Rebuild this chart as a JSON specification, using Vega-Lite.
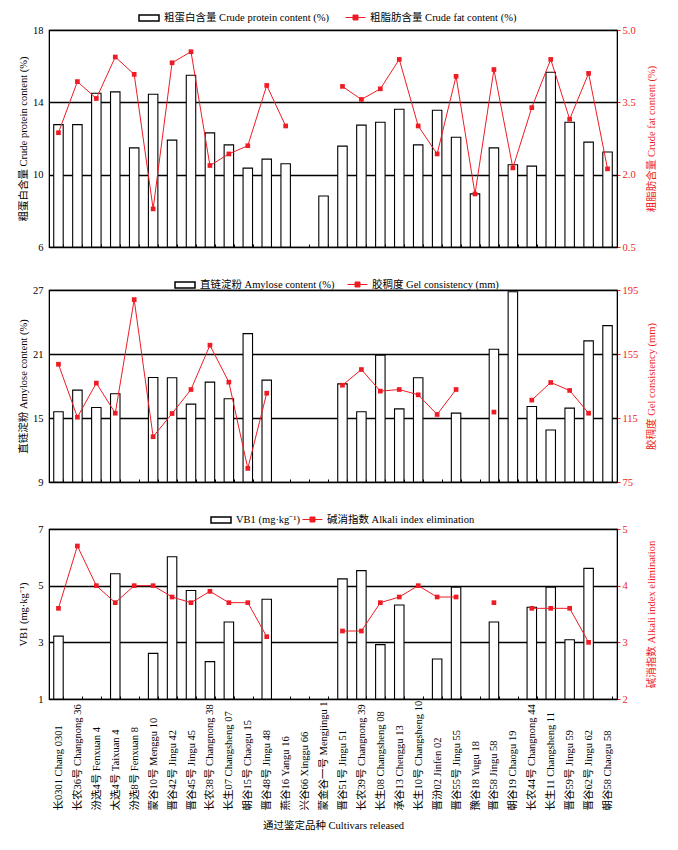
{
  "$schema": "https://vega.github.io/schema/vega-lite/v6.json",
  "padding": {"left": 17, "top": 6, "right": 10, "bottom": 5},
  "background": "white",
  "config": {
    "font": "Liberation Serif, Noto Sans CJK SC",
    "view": {"stroke": "black", "strokeWidth": 1.2},
    "axis": {"labelFont": "Liberation Serif, Noto Sans CJK SC", "titleFont": "Liberation Serif, Noto Sans CJK SC", "labelFontSize": 10.5, "titleFontSize": 10.5, "titleFontWeight": "normal", "domainColor": "black", "labelColor": "black", "titleColor": "black", "tickColor": "black"},
    "legend": {"labelFont": "Liberation Serif, Noto Sans CJK SC", "labelFontSize": 10.5, "labelColor": "black"}
  },
  "data": {"values": [
    {"cultivar": "长0301 Chang 0301", "protein": 12.77, "fat": 2.87, "amylose": 15.58, "gel": 148.6, "vb1": 3.22, "alkali": 3.6},
    {"cultivar": "长农36号 Changnong 36", "protein": 12.77, "fat": 3.93, "amylose": 17.61, "gel": 115.5, "vb1": null, "alkali": 4.7},
    {"cultivar": "汾选4号 Fenxuan 4", "protein": 14.5, "fat": 3.58, "amylose": 15.99, "gel": 136.8, "vb1": null, "alkali": 4.0},
    {"cultivar": "太选4号 Taixuan 4", "protein": 14.58, "fat": 4.44, "amylose": 17.27, "gel": 118.0, "vb1": 5.42, "alkali": 3.7},
    {"cultivar": "汾选8号 Fenxuan 8", "protein": 11.48, "fat": 4.08, "amylose": null, "gel": 189.0, "vb1": null, "alkali": 4.0},
    {"cultivar": "蒙谷10号 Menggu 10", "protein": 14.45, "fat": 1.29, "amylose": 18.8, "gel": 103.3, "vb1": 2.61, "alkali": 4.0},
    {"cultivar": "晋谷42号 Jingu 42", "protein": 11.91, "fat": 4.32, "amylose": 18.77, "gel": 117.8, "vb1": 6.02, "alkali": 3.8},
    {"cultivar": "晋谷45号 Jingu 45", "protein": 15.5, "fat": 4.55, "amylose": 16.3, "gel": 132.8, "vb1": 4.83, "alkali": 3.7},
    {"cultivar": "长农38号 Changnong 38", "protein": 12.31, "fat": 2.19, "amylose": 18.36, "gel": 160.5, "vb1": 2.32, "alkali": 3.9},
    {"cultivar": "长生07 Changsheng 07", "protein": 11.65, "fat": 2.43, "amylose": 16.8, "gel": 137.4, "vb1": 3.72, "alkali": 3.7},
    {"cultivar": "朝谷15号 Chaogu 15", "protein": 10.36, "fat": 2.6, "amylose": 22.91, "gel": 83.5, "vb1": null, "alkali": 3.7},
    {"cultivar": "晋谷48号 Jingu 48", "protein": 10.86, "fat": 3.85, "amylose": 18.55, "gel": 130.5, "vb1": 4.52, "alkali": 3.1},
    {"cultivar": "燕谷16  Yangu 16", "protein": 10.6, "fat": 3.01, "amylose": null, "gel": null, "vb1": null, "alkali": null},
    {"cultivar": "兴谷66 Xinggu 66", "protein": null, "fat": null, "amylose": null, "gel": null, "vb1": null, "alkali": null},
    {"cultivar": "蒙金谷一号 Mengjingu 1", "protein": 8.82, "fat": null, "amylose": null, "gel": null, "vb1": null, "alkali": null},
    {"cultivar": "晋谷51号 Jingu 51", "protein": 11.58, "fat": 3.83, "amylose": 18.2, "gel": 135.5, "vb1": 5.24, "alkali": 3.2},
    {"cultivar": "长农39号 Changnong 39", "protein": 12.74, "fat": 3.56, "amylose": 15.58, "gel": 145.3, "vb1": 5.53, "alkali": 3.2},
    {"cultivar": "长生08 Changsheng 08", "protein": 12.9, "fat": 3.78, "amylose": 20.89, "gel": 131.8, "vb1": 2.92, "alkali": 3.7},
    {"cultivar": "承谷13 Chenggu 13", "protein": 13.62, "fat": 4.39, "amylose": 15.86, "gel": 132.8, "vb1": 4.32, "alkali": 3.8},
    {"cultivar": "长生10号 Changsheng 10", "protein": 11.65, "fat": 3.01, "amylose": 18.77, "gel": 129.5, "vb1": null, "alkali": 4.0},
    {"cultivar": "晋汾02 Jinfen 02", "protein": 13.56, "fat": 2.43, "amylose": null, "gel": 117.2, "vb1": 2.41, "alkali": 3.8},
    {"cultivar": "晋谷55号 Jingu 55", "protein": 12.07, "fat": 4.04, "amylose": 15.46, "gel": 132.8, "vb1": 4.95, "alkali": 3.8},
    {"cultivar": "豫谷18 Yugu 18", "protein": 8.94, "fat": 1.6, "amylose": null, "gel": null, "vb1": null, "alkali": null},
    {"cultivar": "晋谷58 Jingu 58", "protein": 11.48, "fat": 4.18, "amylose": 21.45, "gel": 118.7, "vb1": 3.72, "alkali": 3.7},
    {"cultivar": "朝谷19 Chaogu 19", "protein": 10.55, "fat": 2.14, "amylose": 26.84, "gel": null, "vb1": null, "alkali": null},
    {"cultivar": "长农44号 Changnong 44", "protein": 10.47, "fat": 3.39, "amylose": 16.08, "gel": 126.2, "vb1": 4.24, "alkali": 3.6},
    {"cultivar": "长生11 Changsheng 11", "protein": 15.66, "fat": 4.39, "amylose": 13.87, "gel": 137.2, "vb1": 4.95, "alkali": 3.6},
    {"cultivar": "晋谷59号 Jingu 59", "protein": 12.9, "fat": 3.15, "amylose": 15.93, "gel": 132.2, "vb1": 3.09, "alkali": 3.6},
    {"cultivar": "晋谷62号 Jingu 62", "protein": 11.8, "fat": 4.1, "amylose": 22.23, "gel": 118.0, "vb1": 5.61, "alkali": 3.0},
    {"cultivar": "朝谷58 Chaogu 58", "protein": 11.25, "fat": 2.12, "amylose": 23.66, "gel": null, "vb1": null, "alkali": null}
  ]},
  "spacing": 19,
  "resolve": {"scale": {"fill": "independent", "stroke": "independent"}},
  "vconcat": [
    {
      "width": 568, "height": 217,
      "resolve": {"scale": {"y": "independent"}},
      "layer": [
        {
          "mark": {"type": "bar", "stroke": "black", "strokeWidth": 1.1},
          "encoding": {
            "x": {"field": "cultivar", "type": "nominal", "sort": null, "scale": {"domain": ["长0301 Chang 0301", "长农36号 Changnong 36", "汾选4号 Fenxuan 4", "太选4号 Taixuan 4", "汾选8号 Fenxuan 8", "蒙谷10号 Menggu 10", "晋谷42号 Jingu 42", "晋谷45号 Jingu 45", "长农38号 Changnong 38", "长生07 Changsheng 07", "朝谷15号 Chaogu 15", "晋谷48号 Jingu 48", "燕谷16  Yangu 16", "兴谷66 Xinggu 66", "蒙金谷一号 Mengjingu 1", "晋谷51号 Jingu 51", "长农39号 Changnong 39", "长生08 Changsheng 08", "承谷13 Chenggu 13", "长生10号 Changsheng 10", "晋汾02 Jinfen 02", "晋谷55号 Jingu 55", "豫谷18 Yugu 18", "晋谷58 Jingu 58", "朝谷19 Chaogu 19", "长农44号 Changnong 44", "长生11 Changsheng 11", "晋谷59号 Jingu 59", "晋谷62号 Jingu 62", "朝谷58 Chaogu 58"], "paddingInner": 0.5, "paddingOuter": 0.25}, "axis": {"labels": false, "title": null, "tickBand": "extent", "tickSize": -3, "domainColor": "black"}},
            "y": {"field": "protein", "type": "quantitative", "scale": {"domain": [6, 18], "nice": false, "zero": false}, "axis": {"orient": "left", "values": [6, 10, 14, 18], "grid": true, "gridColor": "black", "gridWidth": 1.5, "ticks": false, "labelPadding": 6, "minExtent": 16, "maxExtent": 16, "titlePadding": 5, "title": "粗蛋白含量  Crude protein content (%)"}},
            "y2": {"datum": 6},
            "fill": {"datum": "粗蛋白含量  Crude protein content (%)", "type": "nominal", "scale": {"range": ["white"]}, "legend": {"orient": "none", "legendX": 89, "legendY": -23, "title": null, "direction": "horizontal", "symbolType": "M-1,-0.3H1V0.3H-1Z", "symbolSize": 400, "labelOffset": 4, "labelLimit": 400, "encode": {"symbols": {"update": {"fill": {"value": "white"}, "stroke": {"value": "black"}, "strokeWidth": {"value": 1.2}}}}}}
          }
        },
        {
          "layer": [
            {
              "mark": {"type": "line", "color": "#ee1c25", "strokeWidth": 1, "invalid": "break-paths-show-domains"},
              "encoding": {
                "x": {"field": "cultivar", "type": "nominal", "sort": null},
                "y": {"field": "fat", "type": "quantitative", "scale": {"domain": [0.5, 5], "nice": false, "zero": false}, "axis": {"orient": "right", "values": [0.5, 2, 3.5, 5], "format": ".1f", "grid": false, "labelColor": "#ee1c25", "tickColor": "#ee1c25", "tickSize": 3, "labelPadding": 2, "minExtent": 22, "maxExtent": 22, "titlePadding": 7, "titleColor": "#ee1c25", "titleAngle": 270, "titleBaseline": "top", "title": "粗脂肪含量  Crude fat content (%)"}},
                "stroke": {"datum": "粗脂肪含量  Crude fat content (%)", "type": "nominal", "scale": {"range": ["#ee1c25"]}, "legend": {"orient": "none", "legendX": 296, "legendY": -23, "title": null, "direction": "horizontal", "symbolType": "M-1,0H1M-0.25,-0.25H0.25V0.25H-0.25Z", "symbolSize": 400, "labelOffset": 4, "labelLimit": 400, "encode": {"symbols": {"update": {"fill": {"value": "#ee1c25"}, "stroke": {"value": "#ee1c25"}, "strokeWidth": {"value": 1}}}}}}
              }
            },
            {
              "mark": {"type": "square", "color": "#ee1c25", "size": 22, "opacity": 1, "filled": true},
              "encoding": {
                "x": {"field": "cultivar", "type": "nominal", "sort": null},
                "y": {"field": "fat", "type": "quantitative"}
              }
            }
          ]
        }
      ]
    },
    {
      "width": 568, "height": 192,
      "resolve": {"scale": {"y": "independent"}},
      "layer": [
        {
          "mark": {"type": "bar", "stroke": "black", "strokeWidth": 1.1},
          "encoding": {
            "x": {"field": "cultivar", "type": "nominal", "sort": null, "scale": {"domain": ["长0301 Chang 0301", "长农36号 Changnong 36", "汾选4号 Fenxuan 4", "太选4号 Taixuan 4", "汾选8号 Fenxuan 8", "蒙谷10号 Menggu 10", "晋谷42号 Jingu 42", "晋谷45号 Jingu 45", "长农38号 Changnong 38", "长生07 Changsheng 07", "朝谷15号 Chaogu 15", "晋谷48号 Jingu 48", "燕谷16  Yangu 16", "兴谷66 Xinggu 66", "蒙金谷一号 Mengjingu 1", "晋谷51号 Jingu 51", "长农39号 Changnong 39", "长生08 Changsheng 08", "承谷13 Chenggu 13", "长生10号 Changsheng 10", "晋汾02 Jinfen 02", "晋谷55号 Jingu 55", "豫谷18 Yugu 18", "晋谷58 Jingu 58", "朝谷19 Chaogu 19", "长农44号 Changnong 44", "长生11 Changsheng 11", "晋谷59号 Jingu 59", "晋谷62号 Jingu 62", "朝谷58 Chaogu 58"], "paddingInner": 0.5, "paddingOuter": 0.25}, "axis": {"labels": false, "title": null, "tickBand": "extent", "tickSize": -3, "domainColor": "black"}},
            "y": {"field": "amylose", "type": "quantitative", "scale": {"domain": [9, 27], "nice": false, "zero": false}, "axis": {"orient": "left", "values": [9, 15, 21, 27], "grid": true, "gridColor": "black", "gridWidth": 1.5, "ticks": false, "labelPadding": 6, "minExtent": 16, "maxExtent": 16, "titlePadding": 5, "title": "直链淀粉  Amylose content (%)"}},
            "y2": {"datum": 9},
            "fill": {"datum": "直链淀粉  Amylose content (%)", "type": "nominal", "scale": {"range": ["white"]}, "legend": {"orient": "none", "legendX": 125, "legendY": -16, "title": null, "direction": "horizontal", "symbolType": "M-1,-0.3H1V0.3H-1Z", "symbolSize": 400, "labelOffset": 4, "labelLimit": 400, "encode": {"symbols": {"update": {"fill": {"value": "white"}, "stroke": {"value": "black"}, "strokeWidth": {"value": 1.2}}}}}}
          }
        },
        {
          "layer": [
            {
              "mark": {"type": "line", "color": "#ee1c25", "strokeWidth": 1, "invalid": "break-paths-show-domains"},
              "encoding": {
                "x": {"field": "cultivar", "type": "nominal", "sort": null},
                "y": {"field": "gel", "type": "quantitative", "scale": {"domain": [75, 195], "nice": false, "zero": false}, "axis": {"orient": "right", "values": [75, 115, 155, 195], "format": "d", "grid": false, "labelColor": "#ee1c25", "tickColor": "#ee1c25", "tickSize": 3, "labelPadding": 2, "minExtent": 22, "maxExtent": 22, "titlePadding": 7, "titleColor": "#ee1c25", "titleAngle": 270, "titleBaseline": "top", "title": "胶稠度  Gel consistency (mm)"}},
                "stroke": {"datum": "胶稠度 Gel consistency (mm)", "type": "nominal", "scale": {"range": ["#ee1c25"]}, "legend": {"orient": "none", "legendX": 298, "legendY": -16, "title": null, "direction": "horizontal", "symbolType": "M-1,0H1M-0.25,-0.25H0.25V0.25H-0.25Z", "symbolSize": 400, "labelOffset": 4, "labelLimit": 400, "encode": {"symbols": {"update": {"fill": {"value": "#ee1c25"}, "stroke": {"value": "#ee1c25"}, "strokeWidth": {"value": 1}}}}}}
              }
            },
            {
              "mark": {"type": "square", "color": "#ee1c25", "size": 22, "opacity": 1, "filled": true},
              "encoding": {
                "x": {"field": "cultivar", "type": "nominal", "sort": null},
                "y": {"field": "gel", "type": "quantitative"}
              }
            }
          ]
        }
      ]
    },
    {
      "width": 568, "height": 170,
      "resolve": {"scale": {"y": "independent"}},
      "layer": [
        {
          "mark": {"type": "bar", "stroke": "black", "strokeWidth": 1.1},
          "encoding": {
            "x": {"field": "cultivar", "type": "nominal", "sort": null, "scale": {"domain": ["长0301 Chang 0301", "长农36号 Changnong 36", "汾选4号 Fenxuan 4", "太选4号 Taixuan 4", "汾选8号 Fenxuan 8", "蒙谷10号 Menggu 10", "晋谷42号 Jingu 42", "晋谷45号 Jingu 45", "长农38号 Changnong 38", "长生07 Changsheng 07", "朝谷15号 Chaogu 15", "晋谷48号 Jingu 48", "燕谷16  Yangu 16", "兴谷66 Xinggu 66", "蒙金谷一号 Mengjingu 1", "晋谷51号 Jingu 51", "长农39号 Changnong 39", "长生08 Changsheng 08", "承谷13 Chenggu 13", "长生10号 Changsheng 10", "晋汾02 Jinfen 02", "晋谷55号 Jingu 55", "豫谷18 Yugu 18", "晋谷58 Jingu 58", "朝谷19 Chaogu 19", "长农44号 Changnong 44", "长生11 Changsheng 11", "晋谷59号 Jingu 59", "晋谷62号 Jingu 62", "朝谷58 Chaogu 58"], "paddingInner": 0.5, "paddingOuter": 0.25}, "axis": {"labels": true, "labelAngle": 270, "labelAlign": "left", "labelBaseline": "middle", "labelPadding": 114, "labelLimit": 300, "labelOverlap": false, "labelFontSize": 10.5, "title": "通过鉴定品种 Cultivars released", "titlePadding": 10, "tickBand": "extent", "tickSize": -3, "domainColor": "black"}},
            "y": {"field": "vb1", "type": "quantitative", "scale": {"domain": [1, 7], "nice": false, "zero": false}, "axis": {"orient": "left", "values": [1, 3, 5, 7], "grid": true, "gridColor": "black", "gridWidth": 1.5, "ticks": false, "labelPadding": 6, "minExtent": 16, "maxExtent": 16, "titlePadding": 5, "title": "VB1 (mg·kg⁻¹)"}},
            "y2": {"datum": 1},
            "fill": {"datum": "VB1 (mg·kg⁻¹)", "type": "nominal", "scale": {"range": ["white"]}, "legend": {"orient": "none", "legendX": 161, "legendY": -20, "title": null, "direction": "horizontal", "symbolType": "M-1,-0.3H1V0.3H-1Z", "symbolSize": 400, "labelOffset": 4, "labelLimit": 400, "encode": {"symbols": {"update": {"fill": {"value": "white"}, "stroke": {"value": "black"}, "strokeWidth": {"value": 1.2}}}}}}
          }
        },
        {
          "layer": [
            {
              "mark": {"type": "line", "color": "#ee1c25", "strokeWidth": 1, "invalid": "break-paths-show-domains"},
              "encoding": {
                "x": {"field": "cultivar", "type": "nominal", "sort": null},
                "y": {"field": "alkali", "type": "quantitative", "scale": {"domain": [2, 5], "nice": false, "zero": false}, "axis": {"orient": "right", "values": [2, 3, 4, 5], "format": "d", "grid": false, "labelColor": "#ee1c25", "tickColor": "#ee1c25", "tickSize": 3, "labelPadding": 2, "minExtent": 22, "maxExtent": 22, "titlePadding": 7, "titleColor": "#ee1c25", "titleAngle": 270, "titleBaseline": "top", "title": "碱消指数  Alkali index elimination"}},
                "stroke": {"datum": "碱消指数 Alkali index elimination", "type": "nominal", "scale": {"range": ["#ee1c25"]}, "legend": {"orient": "none", "legendX": 253, "legendY": -20, "title": null, "direction": "horizontal", "symbolType": "M-1,0H1M-0.25,-0.25H0.25V0.25H-0.25Z", "symbolSize": 400, "labelOffset": 4, "labelLimit": 400, "encode": {"symbols": {"update": {"fill": {"value": "#ee1c25"}, "stroke": {"value": "#ee1c25"}, "strokeWidth": {"value": 1}}}}}}
              }
            },
            {
              "mark": {"type": "square", "color": "#ee1c25", "size": 22, "opacity": 1, "filled": true},
              "encoding": {
                "x": {"field": "cultivar", "type": "nominal", "sort": null},
                "y": {"field": "alkali", "type": "quantitative"}
              }
            }
          ]
        }
      ]
    }
  ]
}
